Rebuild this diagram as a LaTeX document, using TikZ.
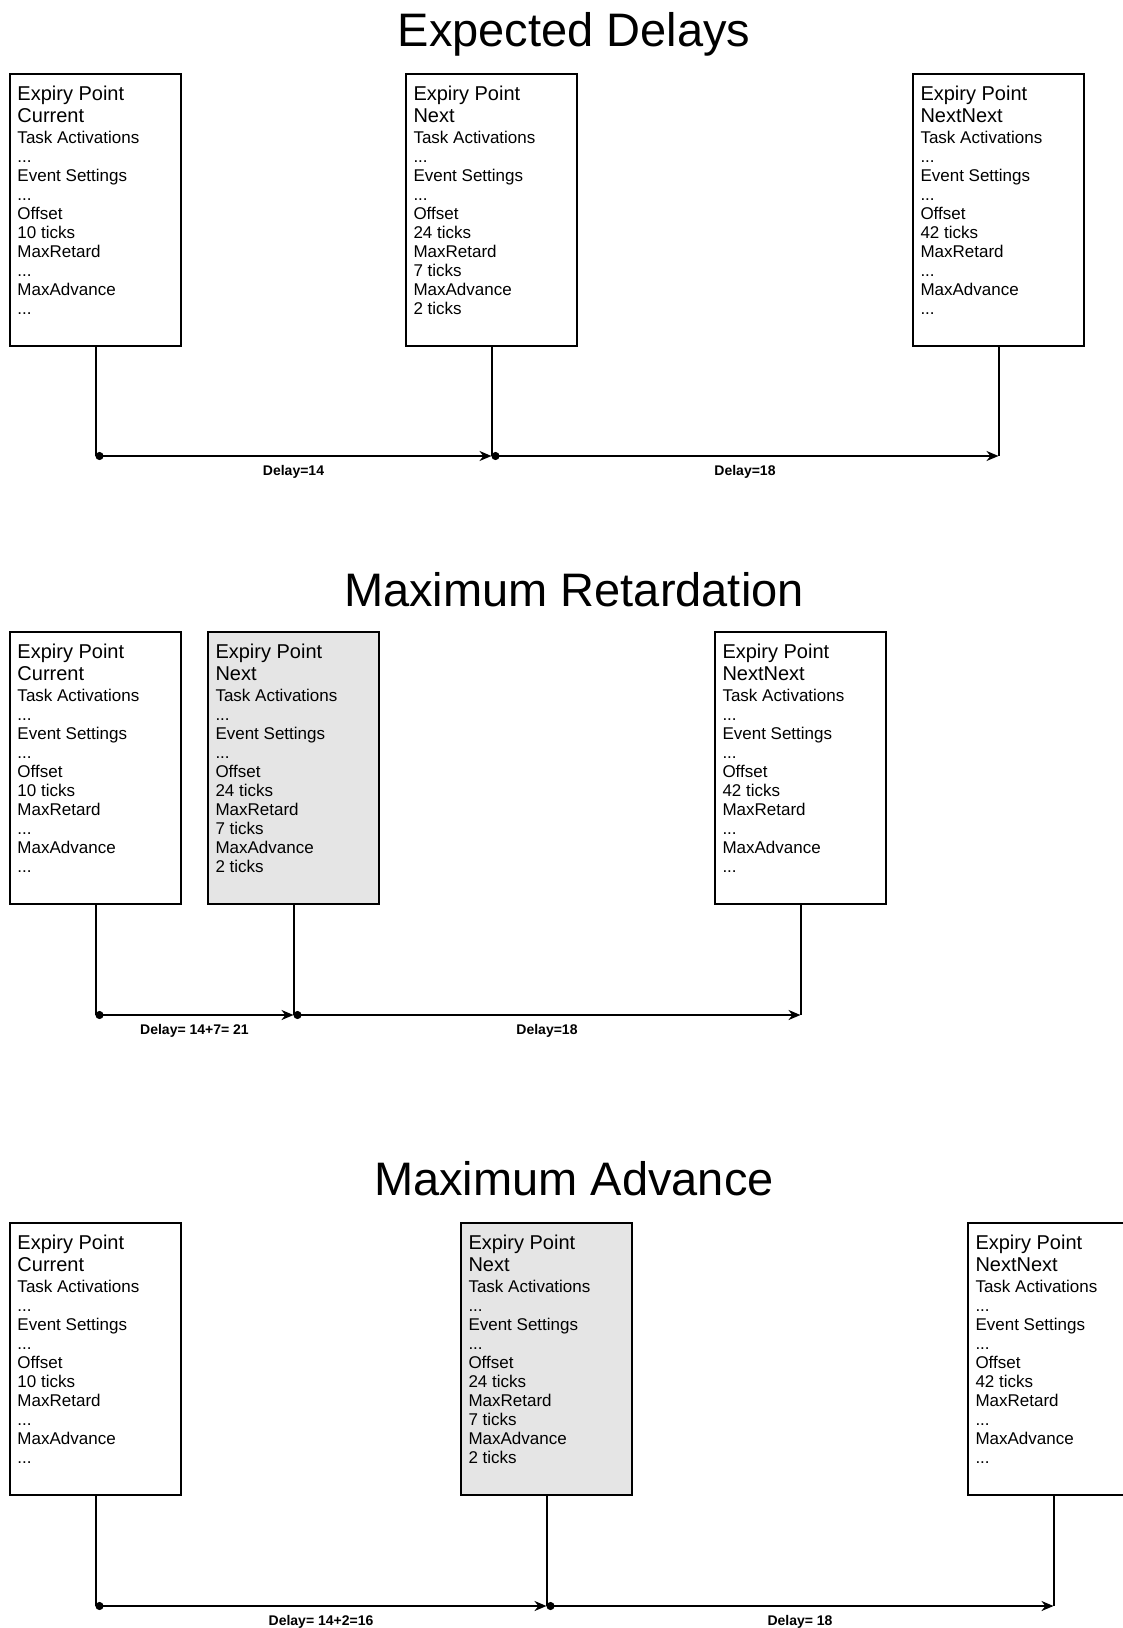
\documentclass[tikz,border=0pt]{standalone}
\usepackage{fontspec}
\setmainfont{Liberation Sans}
\usetikzlibrary{arrows.meta,positioning,calc}

\newcommand{\epinfo}[4]{\parbox[t][124pt][t]{78pt}{%
    {\fontsize{10}{11}\selectfont Expiry Point\\#1\par}\vspace{0.8pt}%
    \fontsize{8.5}{9.5}\selectfont Task Activations\\...\\Event Settings\\...\\Offset\\#2\\MaxRetard\\#3\\MaxAdvance\\#4}}

\tikzset{
    epbox/.style={draw, line width=1pt, anchor=north west, inner xsep=3.5pt, inner ysep=6pt,
        minimum width=85.5pt, minimum height=136pt},
    shaded/.style={fill=gray!20},
    heading/.style={anchor=base, font=\fontsize{23.5}{28}\selectfont},
    link/.style={line width=1pt},
    delay/.style={line width=1pt, {Circle[length=4pt]}-{Stealth[length=6pt,width=5pt]}},
    dlabel/.style={below=4pt, inner sep=0pt, font=\fontsize{7}{8}\selectfont\bfseries}
}

\begin{document}
\begin{tikzpicture}[x=0.5pt, y=-0.5pt]
        \path[use as bounding box, fill=white] (0,0) rectangle (1123,1628);

        % expected delays
        \node[heading] (title1) at (574,46) {Expected Delays};
        \node[epbox] (cur1) at (9,73) {\epinfo{Current}{10 ticks}{...}{...}};
        \node[epbox] (nxt1) at (405,73) {\epinfo{Next}{24 ticks}{7 ticks}{2 ticks}};
        \node[epbox] (nn1) at (912,73) {\epinfo{NextNext}{42 ticks}{...}{...}};
        \coordinate (a1) at (cur1.south |- 0,456);
        \coordinate (b1) at (nxt1.south |- 0,456);
        \coordinate (c1) at (nn1.south |- 0,456);
        \draw[link] (cur1.south) -- (a1);
        \draw[link] (nxt1.south) -- (b1);
        \draw[link] (nn1.south) -- (c1);
        \draw[delay] (a1) -- node[dlabel] {Delay=14} (b1);
        \draw[delay] (b1) -- node[dlabel] {Delay=18} (c1);

        % maximum retardation
        \node[heading] (title2) at (574,606) {Maximum Retardation};
        \node[epbox] (cur2) at (9,631) {\epinfo{Current}{10 ticks}{...}{...}};
        \node[epbox, shaded] (nxt2) at (207,631) {\epinfo{Next}{24 ticks}{7 ticks}{2 ticks}};
        \node[epbox] (nn2) at (714,631) {\epinfo{NextNext}{42 ticks}{...}{...}};
        \coordinate (a2) at (cur2.south |- 0,1015);
        \coordinate (b2) at (nxt2.south |- 0,1015);
        \coordinate (c2) at (nn2.south |- 0,1015);
        \draw[link] (cur2.south) -- (a2);
        \draw[link] (nxt2.south) -- (b2);
        \draw[link] (nn2.south) -- (c2);
        \draw[delay] (a2) -- node[dlabel] {Delay= 14+7= 21} (b2);
        \draw[delay] (b2) -- node[dlabel] {Delay=18} (c2);

        % maximum advance
        \node[heading] (title3) at (574,1195) {Maximum Advance};
        \node[epbox] (cur3) at (9,1222) {\epinfo{Current}{10 ticks}{...}{...}};
        \node[epbox, shaded] (nxt3) at (460,1222) {\epinfo{Next}{24 ticks}{7 ticks}{2 ticks}};
        \node[epbox] (nn3) at (967,1222) {\epinfo{NextNext}{42 ticks}{...}{...}};
        \coordinate (a3) at (cur3.south |- 0,1606);
        \coordinate (b3) at (nxt3.south |- 0,1606);
        \coordinate (c3) at (nn3.south |- 0,1606);
        \draw[link] (cur3.south) -- (a3);
        \draw[link] (nxt3.south) -- (b3);
        \draw[link] (nn3.south) -- (c3);
        \draw[delay] (a3) -- node[dlabel] {Delay= 14+2=16} (b3);
        \draw[delay] (b3) -- node[dlabel] {Delay= 18} (c3);
    \end{tikzpicture}
\end{document}
